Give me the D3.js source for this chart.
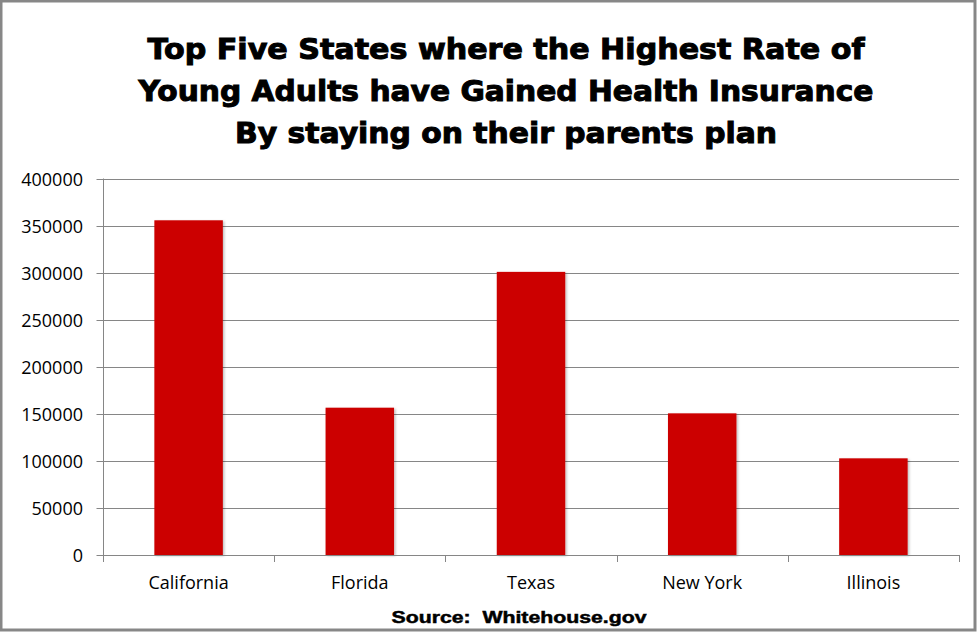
<!DOCTYPE html>
<html>
<head>
<meta charset="utf-8">
<script src="https://cdn.jsdelivr.net/npm/d3@7"></script>
<style>
	body { margin: 0; background: white; }
	svg { display: block; }
</style>
</head>
<body>
<script>
var states = ['California', 'Florida', 'Texas', 'New York', 'Illinois']
var gained = [355600, 156500, 300800, 150500, 102700]
var yTicks = [0, 50000, 100000, 150000, 200000, 250000, 300000, 350000, 400000]
var titleLines = [
	'Top Five States where the Highest Rate of',
	'Young Adults have Gained Health Insurance',
	'By staying on their parents plan'
]
var sourceText = 'Source:  Whitehouse.gov'

var width = 977,
	height = 632

var margin = {top: 178.5, right: 18, bottom: 77, left: 103}

var svg = d3.select('body').append('svg')
	.attr('width', width)
	.attr('height', height)

// outer frame
svg.append('rect')
	.attr('x', 1)
	.attr('y', 1)
	.attr('width', width - 3)
	.attr('height', height - 3)
	.attr('fill', 'white')
	.attr('stroke', '#878787')
	.attr('stroke-width', 3)

var defs = svg.append('defs')
var shadow = defs.append('filter')
	.attr('id', 'shadow')
	.attr('x', '-20%').attr('y', '-5%')
	.attr('width', '150%').attr('height', '120%')
shadow.append('feDropShadow')
	.attr('dx', 1.5)
	.attr('dy', 1)
	.attr('stdDeviation', 1.2)
	.attr('flood-color', '#000')
	.attr('flood-opacity', 0.25)

// title (stroke thickens DejaVu Bold towards Arial Black)
svg.selectAll('.title')
	.data(titleLines)
	.enter()
	.append('text')
		.attr('class', 'title')
		.attr('x', 506)
		.attr('y', (d, i) => 58.5 + i * 42.3)
		.attr('text-anchor', 'middle')
		.style('font-family', '"DejaVu Sans", "Liberation Sans", sans-serif')
		.style('font-weight', 'bold')
		.style('font-size', '28px')
		.attr('stroke', '#000')
		.attr('stroke-width', 1)
		.attr('textLength', (d, i) => [717, 735, 542][i])
		.attr('lengthAdjust', 'spacingAndGlyphs')
		.text(d => d)

var x = d3.scaleBand()
	.domain(states)
	.range([margin.left, width - margin.right])
	.paddingInner(0.6)
	.paddingOuter(0.3)

var y = d3.scaleLinear()
	.domain([0, 400000])
	.range([height - margin.bottom, margin.top])

// gridlines
svg.append('g')
	.selectAll('line')
	.data(yTicks)
	.enter()
	.append('line')
		.attr('x1', margin.left - 6.5)
		.attr('x2', width - margin.right)
		.attr('y1', d => Math.round(y(d)) + 0.5)
		.attr('y2', d => Math.round(y(d)) + 0.5)
		.attr('stroke', '#868686')
		.attr('stroke-width', 1)

// y labels
svg.append('g')
	.selectAll('text')
	.data(yTicks)
	.enter()
	.append('text')
		.attr('x', margin.left - 20)
		.attr('y', d => Math.round(y(d)) + 6.5)
		.attr('text-anchor', 'end')
		.style('font-family', '"Open Sans", sans-serif')
		.style('font-size', '18px')
		.attr('fill', '#000')
		.text(d => d)

// bars
svg.append('g')
	.selectAll('rect')
	.data(states)
	.enter()
	.append('rect')
		.attr('x', d => x(d))
		.attr('y', (d, i) => y(gained[i]))
		.attr('width', x.bandwidth())
		.attr('height', (d, i) => y(0) - y(gained[i]))
		.attr('fill', '#CC0000')
		.attr('filter', 'url(#shadow)')

// y axis line
svg.append('line')
	.attr('x1', margin.left + 0.5)
	.attr('x2', margin.left + 0.5)
	.attr('y1', y(400000))
	.attr('y2', y(0))
	.attr('stroke', '#868686')

// x axis line and category ticks
var step = (width - margin.right - margin.left) / states.length
svg.append('line')
	.attr('x1', margin.left)
	.attr('x2', width - margin.right)
	.attr('y1', Math.round(y(0)) + 0.5)
	.attr('y2', Math.round(y(0)) + 0.5)
	.attr('stroke', '#868686')

svg.append('g')
	.selectAll('line')
	.data(d3.range(states.length + 1))
	.enter()
	.append('line')
		.attr('x1', d => Math.round(margin.left + d * step) + 0.5)
		.attr('x2', d => Math.round(margin.left + d * step) + 0.5)
		.attr('y1', Math.round(y(0)))
		.attr('y2', Math.round(y(0)) + 7)
		.attr('stroke', '#868686')

// x labels
svg.append('g')
	.selectAll('text')
	.data(states)
	.enter()
	.append('text')
		.attr('x', d => x(d) + x.bandwidth() / 2)
		.attr('y', 588.5)
		.attr('text-anchor', 'middle')
		.style('font-family', '"Open Sans", sans-serif')
		.style('font-size', '18px')
		.attr('fill', '#000')
		.text(d => d)

// source
svg.append('text')
	.attr('x', 519)
	.attr('y', 622.5)
	.attr('text-anchor', 'middle')
	.style('font-family', '"Liberation Sans", Arial, sans-serif')
	.style('font-weight', 'bold')
	.style('font-size', '17px')
	.style('white-space', 'pre')
	.attr('stroke', '#000')
	.attr('stroke-width', 0.5)
	.attr('textLength', 255)
	.attr('lengthAdjust', 'spacingAndGlyphs')
	.text(sourceText)
</script>
</body>
</html>
